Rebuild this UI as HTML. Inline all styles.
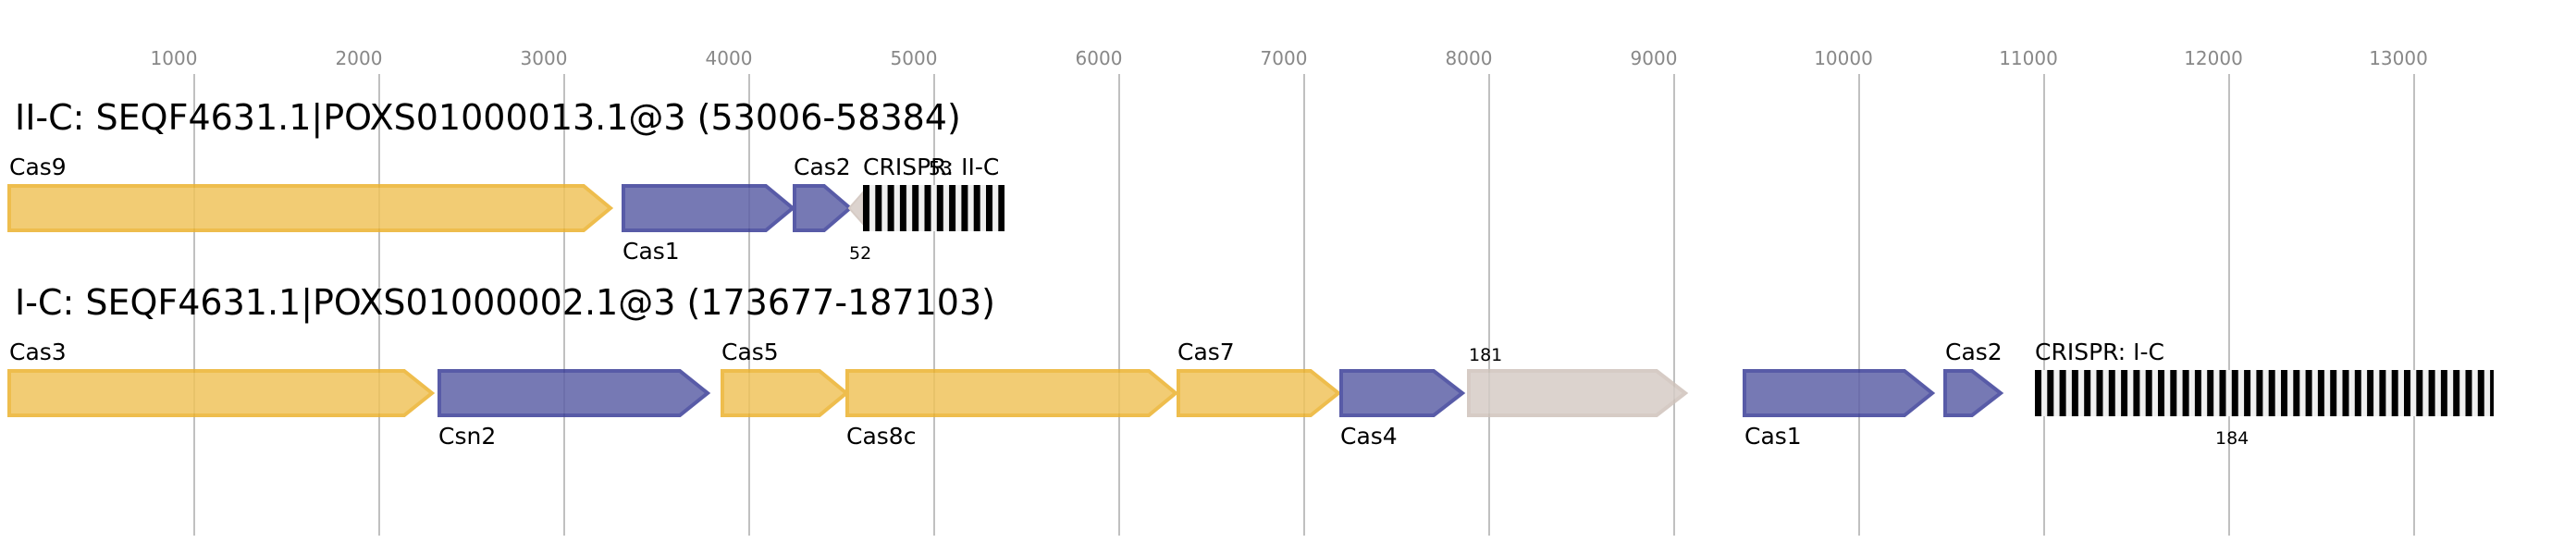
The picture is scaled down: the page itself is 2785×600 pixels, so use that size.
<!DOCTYPE html>
<html><head><meta charset="utf-8"><style>
html,body{margin:0;padding:0;background:#fff;}
svg{display:block;font-family:"DejaVu Sans","Liberation Sans",sans-serif;}
</style></head><body>
<svg width="2785" height="600" viewBox="0 0 2785 600" xmlns="http://www.w3.org/2000/svg">
<defs>
<pattern id="cr1" x="933" y="0" width="13.3" height="600" patternUnits="userSpaceOnUse">
<rect x="0" y="0" width="13.3" height="600" fill="#f0f0f0"/><rect x="0" y="0" width="7" height="600" fill="#000"/>
</pattern>
<pattern id="cr2" x="2200" y="0" width="13.3" height="600" patternUnits="userSpaceOnUse">
<rect x="0" y="0" width="13.3" height="600" fill="#f0f0f0"/><rect x="0" y="0" width="7" height="600" fill="#000"/>
</pattern>
</defs>
<g stroke="#c0c0c0" stroke-width="2">
<line x1="210" y1="80" x2="210" y2="579"/><line x1="410" y1="80" x2="410" y2="579"/><line x1="610" y1="80" x2="610" y2="579"/><line x1="810" y1="80" x2="810" y2="579"/><line x1="1010" y1="80" x2="1010" y2="579"/><line x1="1210" y1="80" x2="1210" y2="579"/><line x1="1410" y1="80" x2="1410" y2="579"/><line x1="1610" y1="80" x2="1610" y2="579"/><line x1="1810" y1="80" x2="1810" y2="579"/><line x1="2010" y1="80" x2="2010" y2="579"/><line x1="2210" y1="80" x2="2210" y2="579"/><line x1="2410" y1="80" x2="2410" y2="579"/><line x1="2610" y1="80" x2="2610" y2="579"/>
</g>
<g fill="#888" font-size="20" text-anchor="middle">
<text x="188" y="70">1000</text><text x="388" y="70">2000</text><text x="588" y="70">3000</text><text x="788" y="70">4000</text><text x="988" y="70">5000</text><text x="1188" y="70">6000</text><text x="1388" y="70">7000</text><text x="1588" y="70">8000</text><text x="1788" y="70">9000</text><text x="1993" y="70">10000</text><text x="2193" y="70">11000</text><text x="2393" y="70">12000</text><text x="2593" y="70">13000</text>
</g>
<g font-size="38" fill="#000">
<text x="16" y="140">II-C: SEQF4631.1|POXS01000013.1@3 (53006-58384)</text>
<text x="16" y="340">I-C: SEQF4631.1|POXS01000002.1@3 (173677-187103)</text>
</g>
<g stroke-width="4" stroke-linejoin="miter" opacity="0.85">
<polygon points="10,201 631,201 660,225 631,249 10,249" fill="#f0c45c" stroke="#ecb22e"/>
<polygon points="674,201 828,201 857,225 828,249 674,249" fill="#5f62a8" stroke="#3c3f98"/>
<polygon points="859,201 891,201 919,225 891,249 859,249" fill="#5f62a8" stroke="#3c3f98"/>
<polygon points="918,225 933,208 933,242" fill="#d6ccc6" stroke="#cfc3bb" stroke-width="2"/>

<polygon points="10,401 437,401 467,425 437,449 10,449" fill="#f0c45c" stroke="#ecb22e"/>
<polygon points="475,401 735,401 765,425 735,449 475,449" fill="#5f62a8" stroke="#3c3f98"/>
<polygon points="781,401 886,401 915,425 886,449 781,449" fill="#f0c45c" stroke="#ecb22e"/>
<polygon points="916,401 1242,401 1271,425 1242,449 916,449" fill="#f0c45c" stroke="#ecb22e"/>
<polygon points="1274,401 1417,401 1447,425 1417,449 1274,449" fill="#f0c45c" stroke="#ecb22e"/>
<polygon points="1450,401 1550,401 1581,425 1550,449 1450,449" fill="#5f62a8" stroke="#3c3f98"/>
<polygon points="1588,401 1791,401 1822,425 1791,449 1588,449" fill="#d6ccc6" stroke="#cfc3bb"/>
<polygon points="1886,401 2059,401 2089,425 2059,449 1886,449" fill="#5f62a8" stroke="#3c3f98"/>
<polygon points="2103,401 2132,401 2163,425 2132,449 2103,449" fill="#5f62a8" stroke="#3c3f98"/>
</g>
<rect x="933" y="200" width="153" height="50" fill="url(#cr1)"/>
<rect x="2200" y="400" width="496" height="50" fill="url(#cr2)"/>
<g font-size="25" fill="#000">
<text x="10" y="189">Cas9</text>
<text x="673" y="280">Cas1</text>
<text x="858" y="189">Cas2</text>
<text x="933" y="189">CRISPR: II-C</text>
<text x="1004" y="189" font-size="20">53</text>
<text x="10" y="389">Cas3</text>
<text x="474" y="480">Csn2</text>
<text x="780" y="389">Cas5</text>
<text x="915" y="480">Cas8c</text>
<text x="1273" y="389">Cas7</text>
<text x="1449" y="480">Cas4</text>
<text x="1886" y="480">Cas1</text>
<text x="2103" y="389">Cas2</text>
<text x="2200" y="389">CRISPR: I-C</text>
</g>
<g font-size="19" fill="#000">
<text x="918" y="280">52</text>
<text x="1588" y="390">181</text>
<text x="2395" y="480">184</text>
</g>
</svg>
</body></html>
